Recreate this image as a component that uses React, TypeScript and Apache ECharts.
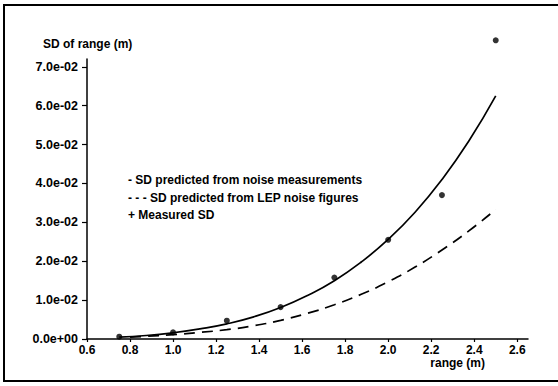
import React, { useEffect, useRef } from "react";
import * as echarts from "echarts";

const xTicks = [0.6, 0.8, 1.0, 1.2, 1.4, 1.6, 1.8, 2.0, 2.2, 2.4, 2.6];
const yTicks = [0, 0.01, 0.02, 0.03, 0.04, 0.05, 0.06, 0.07];

const measuredRange = [0.75, 1.0, 1.25, 1.5, 1.75, 2.0, 2.25, 2.5];
const measuredSD = [0.0006, 0.0017, 0.0047, 0.0082, 0.0158, 0.0255, 0.037, 0.0768];

const noiseRange = [0.75, 0.875, 1.0, 1.125, 1.25, 1.375, 1.5, 1.625, 1.75, 1.875, 2.0, 2.125, 2.25, 2.375, 2.5];
const noiseSD = [0.0005, 0.0009, 0.0016, 0.0026, 0.0039, 0.0057, 0.0081, 0.0112, 0.015, 0.0198, 0.0256, 0.0326, 0.041, 0.0509, 0.0625];

const lepRange = [0.8, 0.875, 1.0, 1.125, 1.25, 1.375, 1.5, 1.625, 1.75, 1.875, 2.0, 2.125, 2.25, 2.375, 2.5];
const lepSD = [0.0005, 0.0007, 0.0011, 0.0017, 0.0024, 0.0034, 0.0048, 0.0066, 0.0088, 0.0115, 0.0147, 0.0185, 0.0229, 0.0278, 0.0333];

const legendLines = [
  "- SD predicted from noise measurements",
  "- - - SD predicted from LEP noise figures",
  "+ Measured SD",
];

const FONT = "'Liberation Sans', Arial, sans-serif";

function expFmt(v: number): string {
  const s = v.toExponential(1);
  const [m, e] = s.split("e");
  const sign = e[0] === "-" ? "-" : "+";
  const digits = e.replace(/^[+-]/, "").padStart(2, "0");
  return `${m}e${sign}${digits}`;
}

export default function App() {
  const ref = useRef<HTMLDivElement>(null);
  useEffect(() => {
    document.body.style.margin = "0";
    if (!ref.current) return;
    const chart = echarts.init(ref.current, undefined, { renderer: "svg" });
    const zip = (xs: number[], ys: number[]) => xs.map((x, i) => [x, ys[i]]);
    const textStyle = { fontFamily: FONT, fontWeight: "bold" as const, fontSize: 12, fill: "#000" };
    chart.setOption({
      animation: false,
      backgroundColor: "#fff",
      grid: { left: 87, right: 30, top: 59, bottom: 47 },
      xAxis: {
        type: "value",
        min: 0.6,
        max: 2.65,
        interval: 0.2,
        splitLine: { show: false },
        axisLine: { lineStyle: { color: "#000", width: 1.5 } },
        axisTick: { show: true, length: 3, customValues: xTicks, lineStyle: { color: "#000", width: 1.2 } },
        axisLabel: {
          customValues: xTicks,
          color: "#000",
          fontFamily: FONT,
          fontWeight: "bold",
          fontSize: 12,
          margin: 5,
          formatter: (v: number) => v.toFixed(1),
        },
      },
      yAxis: {
        type: "value",
        min: 0,
        max: 0.072,
        interval: 0.01,
        splitLine: { show: false },
        axisLine: { show: true, lineStyle: { color: "#000", width: 1.5 } },
        axisTick: { show: true, length: 5, customValues: yTicks, lineStyle: { color: "#000", width: 1.2 } },
        axisLabel: {
          customValues: yTicks,
          color: "#000",
          fontFamily: FONT,
          fontWeight: "bold",
          fontSize: 12.5,
          margin: 9,
          formatter: (v: number) => expFmt(v),
        },
      },
      series: [
        {
          type: "line",
          name: "noise",
          data: zip(noiseRange, noiseSD),
          smooth: true,
          showSymbol: false,
          clip: false,
          lineStyle: { color: "#000", width: 1.7 },
        },
        {
          type: "line",
          name: "lep",
          data: zip(lepRange, lepSD),
          smooth: true,
          showSymbol: false,
          clip: false,
          lineStyle: { color: "#000", width: 1.7, type: [11, 7] },
        },
        {
          type: "scatter",
          name: "measured",
          data: zip(measuredRange, measuredSD),
          symbol: "circle",
          symbolSize: 6,
          clip: false,
          itemStyle: { color: "#000" },
        },
      ],
      graphic: [
        {
          type: "rect",
          shape: { x: 4, y: 5, width: 600, height: 376 },
          style: { fill: "none", stroke: "#000", lineWidth: 2 },
          silent: true,
        },
        {
          type: "text",
          x: 43,
          y: 44,
          style: { ...textStyle, text: "SD of range (m)", textVerticalAlign: "middle" },
        },
        {
          type: "text",
          x: 485,
          y: 363,
          style: { ...textStyle, text: "range (m)", textAlign: "right", textVerticalAlign: "middle" },
        },
        ...legendLines.map((t, i) => ({
          type: "text",
          x: 128,
          y: [180, 198, 215][i],
          style: { ...textStyle, text: t, textVerticalAlign: "middle" },
        })),
      ],
    });
    return () => chart.dispose();
  }, []);
  return <div ref={ref} style={{ width: 558, height: 386 }} />;
}
